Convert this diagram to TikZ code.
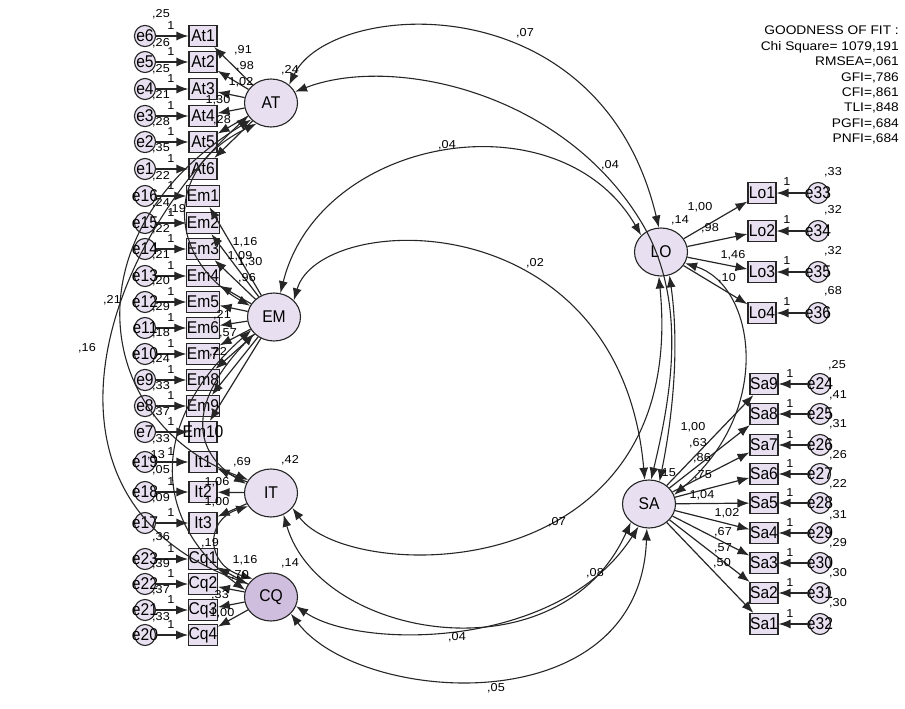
\documentclass[tikz,border=0pt]{standalone}
\usepackage{fontspec}
\setmainfont{Liberation Sans}[FakeStretch=1.1]
\newfontfamily\narrowsf{Liberation Sans}[FakeStretch=0.92]
\usetikzlibrary{arrows.meta}
\usetikzlibrary{shapes.geometric}
\definecolor{lavfill}{HTML}{E8E0F0}
\definecolor{cqfill}{HTML}{CFBEDD}
\definecolor{edge}{HTML}{262626}
\newcommand{\ov}[1]{\makebox[0pt]{#1}}

\begin{document}
\begin{tikzpicture}[x=1pt, y=-1pt,
    obsbox/.style={draw=edge, line width=1.1pt, fill=lavfill, minimum width=28pt, minimum height=21pt, inner sep=0pt, font=\narrowsf\fontsize{17}{17}\selectfont},
    errcirc/.style={draw=edge, line width=1.1pt, fill=lavfill, circle, minimum size=21pt, inner sep=0pt, font=\narrowsf\fontsize{17}{17}\selectfont},
    latent/.style={draw=edge, line width=1.1pt, fill=lavfill, ellipse, minimum width=53pt, minimum height=48pt, inner sep=0pt, font=\narrowsf\fontsize{17}{17}\selectfont},
    numlab/.style={inner sep=0pt, font=\fontsize{11.5}{11.5}\selectfont},
    loadarrow/.style={-{Latex[length=12pt,width=9pt]}, line width=1.2pt, draw=edge},
    covarrow/.style={{Latex[length=12pt,width=9pt]}-{Latex[length=12pt,width=9pt]}, line width=1.1pt, draw=edge}]
    \useasboundingbox (0,0) rectangle (905,709);

    % latent variables
    \node[latent] (AT) at (271,103) {AT};
    \node[latent] (EM) at (274,317) {EM};
    \node[latent] (IT) at (271,493) {IT};
    \node[latent, fill=cqfill] (CQ) at (271,597) {CQ};
    \node[latent] (LO) at (661,252) {LO};
    \node[latent] (SA) at (649,504) {SA};

    % left indicators
    \node[obsbox] (At1) at (203,36) {At1};   \node[errcirc] (e6) at (145,36) {e6};
    \node[obsbox] (At2) at (203,62) {At2};   \node[errcirc] (e5) at (145,62) {e5};
    \node[obsbox] (At3) at (203,89) {At3};   \node[errcirc] (e4) at (145,89) {e4};
    \node[obsbox] (At4) at (203,116) {At4};  \node[errcirc] (e3) at (145,116) {e3};
    \node[obsbox] (At5) at (203,142) {At5};  \node[errcirc] (e2) at (145,142) {e2};
    \node[obsbox] (At6) at (203,169) {At6};  \node[errcirc] (e1) at (145,169) {e1};
    \node[obsbox] (Em1) at (203,196) {Em1};  \node[errcirc] (e16) at (145,196) {\ov{e16}};
    \node[obsbox] (Em2) at (203,223) {Em2};  \node[errcirc] (e15) at (145,223) {\ov{e15}};
    \node[obsbox] (Em3) at (203,249) {Em3};  \node[errcirc] (e14) at (145,249) {\ov{e14}};
    \node[obsbox] (Em4) at (203,276) {Em4};  \node[errcirc] (e13) at (145,276) {\ov{e13}};
    \node[obsbox] (Em5) at (203,302) {Em5};  \node[errcirc] (e12) at (145,302) {\ov{e12}};
    \node[obsbox] (Em6) at (203,328) {Em6};  \node[errcirc] (e11) at (145,328) {\ov{e11}};
    \node[obsbox] (Em7) at (203,354) {Em7};  \node[errcirc] (e10) at (145,354) {\ov{e10}};
    \node[obsbox] (Em8) at (203,380) {Em8};  \node[errcirc] (e9) at (145,380) {e9};
    \node[obsbox] (Em9) at (203,406) {Em9};  \node[errcirc] (e8) at (145,406) {e8};
    \node[obsbox] (Em10) at (203,432) {\ov{Em10}}; \node[errcirc] (e7) at (145,432) {e7};
    \node[obsbox] (It1) at (203,462) {It1};  \node[errcirc] (e19) at (145,462) {\ov{e19}};
    \node[obsbox] (It2) at (203,492) {It2};  \node[errcirc] (e18) at (145,492) {\ov{e18}};
    \node[obsbox] (It3) at (203,523) {It3};  \node[errcirc] (e17) at (145,523) {\ov{e17}};
    \node[obsbox] (Cq1) at (203,559) {Cq1};  \node[errcirc] (e23) at (145,559) {\ov{e23}};
    \node[obsbox] (Cq2) at (203,584) {Cq2};  \node[errcirc] (e22) at (145,584) {\ov{e22}};
    \node[obsbox] (Cq3) at (203,610) {Cq3};  \node[errcirc] (e21) at (145,610) {\ov{e21}};
    \node[obsbox] (Cq4) at (203,635) {Cq4};  \node[errcirc] (e20) at (145,635) {\ov{e20}};

    % right indicators
    \node[obsbox] (Lo1) at (762,193) {Lo1};  \node[errcirc] (e33) at (818,193) {\ov{e33}};
    \node[obsbox] (Lo2) at (762,231) {Lo2};  \node[errcirc] (e34) at (818,231) {\ov{e34}};
    \node[obsbox] (Lo3) at (762,272) {Lo3};  \node[errcirc] (e35) at (818,272) {\ov{e35}};
    \node[obsbox] (Lo4) at (762,313) {Lo4};  \node[errcirc] (e36) at (818,313) {\ov{e36}};
    \node[obsbox] (Sa9) at (764,384) {Sa9};  \node[errcirc] (e24) at (820,384) {\ov{e24}};
    \node[obsbox] (Sa8) at (764,414) {Sa8};  \node[errcirc] (e25) at (820,414) {\ov{e25}};
    \node[obsbox] (Sa7) at (764,445) {Sa7};  \node[errcirc] (e26) at (820,445) {\ov{e26}};
    \node[obsbox] (Sa6) at (764,474) {Sa6};  \node[errcirc] (e27) at (820,474) {\ov{e27}};
    \node[obsbox] (Sa5) at (764,503) {Sa5};  \node[errcirc] (e28) at (820,503) {\ov{e28}};
    \node[obsbox] (Sa4) at (764,533) {Sa4};  \node[errcirc] (e29) at (820,533) {\ov{e29}};
    \node[obsbox] (Sa3) at (764,563) {Sa3};  \node[errcirc] (e30) at (820,563) {\ov{e30}};
    \node[obsbox] (Sa2) at (764,593) {Sa2};  \node[errcirc] (e31) at (820,593) {\ov{e31}};
    \node[obsbox] (Sa1) at (764,624) {Sa1};  \node[errcirc] (e32) at (820,624) {\ov{e32}};

    % loadings
    \draw[loadarrow] (AT) -- (At1); \draw[loadarrow] (AT) -- (At2); \draw[loadarrow] (AT) -- (At3);
    \draw[loadarrow] (AT) -- (At4); \draw[loadarrow] (AT) -- (At5); \draw[loadarrow] (AT) -- (At6);
    \draw[loadarrow] (EM) -- (Em1); \draw[loadarrow] (EM) -- (Em2); \draw[loadarrow] (EM) -- (Em3);
    \draw[loadarrow] (EM) -- (Em4); \draw[loadarrow] (EM) -- (Em5); \draw[loadarrow] (EM) -- (Em6);
    \draw[loadarrow] (EM) -- (Em7); \draw[loadarrow] (EM) -- (Em8); \draw[loadarrow] (EM) -- (Em9);
    \draw[loadarrow] (EM) -- (Em10);
    \draw[loadarrow] (IT) -- (It1); \draw[loadarrow] (IT) -- (It2); \draw[loadarrow] (IT) -- (It3);
    \draw[loadarrow] (CQ) -- (Cq1); \draw[loadarrow] (CQ) -- (Cq2); \draw[loadarrow] (CQ) -- (Cq3);
    \draw[loadarrow] (CQ) -- (Cq4);
    \draw[loadarrow] (LO) -- (Lo1); \draw[loadarrow] (LO) -- (Lo2); \draw[loadarrow] (LO) -- (Lo3);
    \draw[loadarrow] (LO) -- (Lo4);
    \draw[loadarrow] (SA) -- (Sa9); \draw[loadarrow] (SA) -- (Sa8); \draw[loadarrow] (SA) -- (Sa7);
    \draw[loadarrow] (SA) -- (Sa6); \draw[loadarrow] (SA) -- (Sa5); \draw[loadarrow] (SA) -- (Sa4);
    \draw[loadarrow] (SA) -- (Sa3); \draw[loadarrow] (SA) -- (Sa2); \draw[loadarrow] (SA) -- (Sa1);

    % error terms
    \draw[loadarrow] (e6) -- (At1); \draw[loadarrow] (e5) -- (At2); \draw[loadarrow] (e4) -- (At3);
    \draw[loadarrow] (e3) -- (At4); \draw[loadarrow] (e2) -- (At5); \draw[loadarrow] (e1) -- (At6);
    \draw[loadarrow] (e16) -- (Em1); \draw[loadarrow] (e15) -- (Em2); \draw[loadarrow] (e14) -- (Em3);
    \draw[loadarrow] (e13) -- (Em4); \draw[loadarrow] (e12) -- (Em5); \draw[loadarrow] (e11) -- (Em6);
    \draw[loadarrow] (e10) -- (Em7); \draw[loadarrow] (e9) -- (Em8); \draw[loadarrow] (e8) -- (Em9);
    \draw[loadarrow] (e7) -- (Em10);
    \draw[loadarrow] (e19) -- (It1); \draw[loadarrow] (e18) -- (It2); \draw[loadarrow] (e17) -- (It3);
    \draw[loadarrow] (e23) -- (Cq1); \draw[loadarrow] (e22) -- (Cq2); \draw[loadarrow] (e21) -- (Cq3);
    \draw[loadarrow] (e20) -- (Cq4);
    \draw[loadarrow] (e33) -- (Lo1); \draw[loadarrow] (e34) -- (Lo2); \draw[loadarrow] (e35) -- (Lo3);
    \draw[loadarrow] (e36) -- (Lo4);
    \draw[loadarrow] (e24) -- (Sa9); \draw[loadarrow] (e25) -- (Sa8); \draw[loadarrow] (e26) -- (Sa7);
    \draw[loadarrow] (e27) -- (Sa6); \draw[loadarrow] (e28) -- (Sa5); \draw[loadarrow] (e29) -- (Sa4);
    \draw[loadarrow] (e30) -- (Sa3); \draw[loadarrow] (e31) -- (Sa2); \draw[loadarrow] (e32) -- (Sa1);

    % covariances, right
    \draw[covarrow] (AT.45) .. controls (330,0) and (600,-20) .. (LO.95);
    \draw[covarrow] (AT.25) .. controls (390,55) and (560,90) .. (640,220) .. controls (690,300) and (670,400) .. (SA.85);
    \draw[covarrow] (EM.75) .. controls (320,135) and (560,95) .. (LO.140);
    \draw[covarrow] (EM.40) .. controls (320,210) and (620,200) .. (SA.100);
    \draw[covarrow] (IT.-35) .. controls (350,585) and (690,590) .. (LO.-95);
    \draw[covarrow] (IT.-60) .. controls (320,640) and (560,680) .. (SA.-135);
    \draw[covarrow] (CQ.-20) .. controls (360,650) and (560,650) .. (SA.-115);
    \draw[covarrow] (CQ.-40) .. controls (360,705) and (640,725) .. (SA.-95);
    \draw[covarrow] (LO.-70) .. controls (680,350) and (672,420) .. (SA.65);
    \draw[covarrow] (LO.-25) .. controls (755,285) and (775,410) .. (SA.20);

    % covariances, left
    \draw[covarrow] (AT.-150) .. controls (100,250) and (20,500) .. (CQ.150);
    \draw[covarrow] (AT.-140) .. controls (70,230) and (90,420) .. (IT.150);
    \draw[covarrow] (AT.-125) .. controls (160,170) and (170,260) .. (EM.155);
    \draw[covarrow] (EM.-150) .. controls (150,420) and (150,520) .. (CQ.165);
    \draw[covarrow] (EM.-140) .. controls (190,400) and (190,450) .. (IT.160);
    \draw[covarrow] (IT.-150) .. controls (205,520) and (205,565) .. (CQ.135);

    % weights on error paths
    \node[numlab] (w6) at (171,26) {1};  \node[numlab] (w5) at (171,52) {1};
    \node[numlab] (w4) at (171,79) {1};  \node[numlab] (w3) at (171,106) {1};
    \node[numlab] (w2) at (171,132) {1}; \node[numlab] (w1) at (171,159) {1};
    \node[numlab] (w16) at (171,186) {1}; \node[numlab] (w15) at (171,213) {1};
    \node[numlab] (w14) at (171,239) {1}; \node[numlab] (w13) at (171,266) {1};
    \node[numlab] (w12) at (171,292) {1}; \node[numlab] (w11) at (171,318) {1};
    \node[numlab] (w10) at (171,344) {1}; \node[numlab] (w9) at (171,370) {1};
    \node[numlab] (w8) at (171,396) {1};  \node[numlab] (w7) at (171,422) {1};
    \node[numlab] (w19) at (171,452) {1}; \node[numlab] (w18) at (171,482) {1};
    \node[numlab] (w17) at (171,513) {1}; \node[numlab] (w23) at (171,549) {1};
    \node[numlab] (w22) at (171,574) {1}; \node[numlab] (w21) at (171,600) {1};
    \node[numlab] (w20) at (171,625) {1};
    \node[numlab] (w33) at (787,182) {1}; \node[numlab] (w34) at (787,220) {1};
    \node[numlab] (w35) at (787,261) {1}; \node[numlab] (w36) at (787,302) {1};
    \node[numlab] (w24) at (790,374) {1}; \node[numlab] (w25) at (790,404) {1};
    \node[numlab] (w26) at (790,435) {1}; \node[numlab] (w27) at (790,464) {1};
    \node[numlab] (w28) at (790,493) {1}; \node[numlab] (w29) at (790,523) {1};
    \node[numlab] (w30) at (790,553) {1}; \node[numlab] (w31) at (790,583) {1};
    \node[numlab] (w32) at (790,614) {1};

    % variances
    \node[numlab] (v0) at (161,14) {,25};
    \node[numlab] (v6) at (161,43) {,26};  \node[numlab] (v5) at (161,69) {,25};
    \node[numlab] (v4) at (161,95) {,21};  \node[numlab] (v3) at (161,122) {,28};
    \node[numlab] (v2) at (161,148) {,35}; \node[numlab] (v1) at (161,176) {,22};
    \node[numlab] (v16) at (161,203) {,24}; \node[numlab] (v15) at (161,229) {,22};
    \node[numlab] (v14) at (161,255) {,21}; \node[numlab] (v13) at (161,281) {,20};
    \node[numlab] (v12) at (161,307) {,29}; \node[numlab] (v11) at (161,333) {,18};
    \node[numlab] (v10) at (161,359) {,24}; \node[numlab] (v9) at (161,386) {,33};
    \node[numlab] (v8) at (161,412) {,37};  \node[numlab] (v7) at (161,439) {,33};
    \node[numlab] (vx) at (156,455) {,13};
    \node[numlab] (v19) at (161,470) {,05}; \node[numlab] (v18) at (161,498) {,09};
    \node[numlab] (v17) at (161,537) {,36}; \node[numlab] (v23) at (161,564) {,39};
    \node[numlab] (v22) at (161,590) {,37}; \node[numlab] (v21) at (161,617) {,33};
    \node[numlab] (v33) at (833,172) {,33}; \node[numlab] (v34) at (833,210) {,32};
    \node[numlab] (v35) at (833,251) {,32}; \node[numlab] (v36) at (833,291) {,68};
    \node[numlab] (v24) at (837,365) {,25}; \node[numlab] (v25) at (838,395) {,41};
    \node[numlab] (v26) at (838,424) {,31}; \node[numlab] (v27) at (838,455) {,26};
    \node[numlab] (v28) at (838,484) {,22}; \node[numlab] (v29) at (838,515) {,31};
    \node[numlab] (v30) at (838,543) {,29}; \node[numlab] (v31) at (838,573) {,30};
    \node[numlab] (v32) at (838,603) {,30};
    \node[numlab] (vAT) at (290,70) {,24};
    \node[numlab] (vIT) at (290,460) {,42};
    \node[numlab] (vCQ) at (290,563) {,14};
    \node[numlab] (vLO) at (680,220) {,14};

    % loading estimates
    \node[numlab] (a1) at (243,50) {,91};   \node[numlab] (a2) at (245,66) {,98};
    \node[numlab] (a3) at (241,82) {1,02};  \node[numlab] (a4) at (218,100) {1,30};
    \node[numlab] (a5) at (222,120) {,28};
    \node[numlab] (m1) at (245,242) {1,16}; \node[numlab] (m2) at (240,256) {1,09};
    \node[numlab] (m3) at (250,262) {1,30}; \node[numlab] (m4) at (247,278) {,96};
    \node[numlab] (m5) at (222,315) {,21};  \node[numlab] (m6) at (228,333) {,57};
    \node[numlab] (m7) at (218,352) {,22};  \node[numlab] (m8) at (177,209) {,19};
    \node[numlab] (t1) at (242,462) {,69};  \node[numlab] (t2) at (217,482) {1,06};
    \node[numlab] (t3) at (217,502) {1,00};
    \node[numlab] (q0) at (210,543) {,19};  \node[numlab] (q1) at (245,560) {1,16};
    \node[numlab] (q2) at (240,575) {,70};  \node[numlab] (q3) at (220,595) {,33};
    \node[numlab] (q4) at (222,613) {1,00};
    \node[numlab] (o1) at (700,207) {1,00}; \node[numlab] (o2) at (710,228) {,98};
    \node[numlab] (o3) at (733,255) {1,46}; \node[numlab] (o4) at (727,278) {,10};
    \node[numlab] (s1) at (693,427) {1,00}; \node[numlab] (s2) at (698,443) {,63};
    \node[numlab] (s3) at (702,458) {,86};  \node[numlab] (s4) at (703,475) {,75};
    \node[numlab] (s5) at (702,495) {1,04}; \node[numlab] (s6) at (727,513) {1,02};
    \node[numlab] (s7) at (723,532) {,67};  \node[numlab] (s8) at (723,548) {,57};
    \node[numlab] (s9) at (722,563) {,50};

    % covariance estimates
    \node[numlab] (c1) at (525,33) {,07};
    \node[numlab] (c2) at (610,165) {,04};
    \node[numlab] (c3) at (447,145) {,04};
    \node[numlab] (c4) at (535,263) {,02};
    \node[numlab] (c5) at (557,522) {,07};
    \node[numlab] (c6) at (457,637) {,04};
    \node[numlab] (c7) at (595,573) {,08};
    \node[numlab] (c8) at (496,688) {,05};
    \node[numlab] (c9) at (667,473) {,15};
    \node[numlab] (c10) at (112,300) {,21};
    \node[numlab] (c11) at (87,348) {,16};

    \node[numlab, anchor=north east, align=right, font=\fontsize{12.5}{15.4}\selectfont] (gof) at (899,26)
      {GOODNESS OF FIT :\\Chi Square= 1079,191\\RMSEA=,061\\GFI=,786\\CFI=,861\\TLI=,848\\PGFI=,684\\PNFI=,684};
\end{tikzpicture}
\end{document}
